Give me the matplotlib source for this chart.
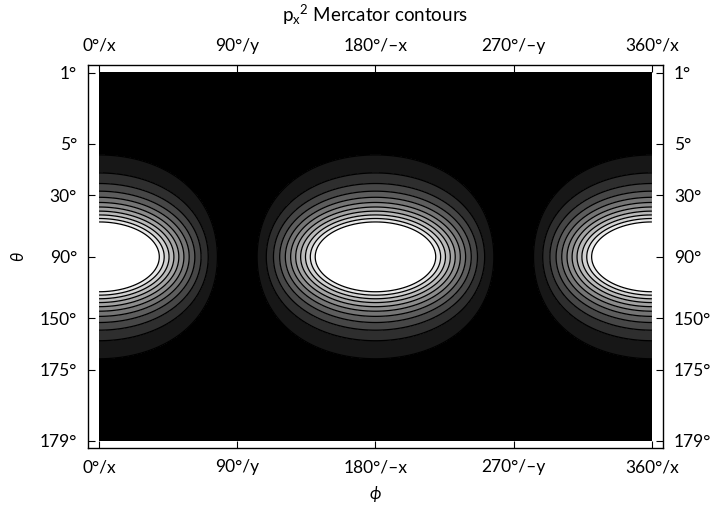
import numpy as np
import matplotlib
matplotlib.use("Agg")
import matplotlib.pyplot as plt

plt.rcParams['font.family'] = ['Lato', 'DejaVu Sans']
plt.rcParams['mathtext.fontset'] = 'custom'
plt.rcParams['mathtext.rm'] = 'Lato'
plt.rcParams['mathtext.it'] = 'Lato:italic'

# ============== chart data ==============
# phi ticks (degrees) and their labels
phi_ticks = [0, 90, 180, 270, 360]
phi_labels = ["0°/x", "90°/y", "180°/–x", "270°/–y", "360°/x"]

# theta ticks, placed on the Mercator axis
merc_ticks = [3.93, 2.414, 1.316, 0.0, -1.316, -2.414, -3.93]
theta_labels = ["1°", "5°", "30°", "90°", "150°", "175°", "179°"]

# Mercator extent of the image
merc_top = 3.93
merc_bot = -3.93

# contour levels of p_x^2 (11 boundaries -> 12 bands, black to white)
levels = [0.05, 0.105, 0.16, 0.215, 0.27, 0.325, 0.38, 0.435, 0.49, 0.545, 0.60]
# =========================================

phi = np.linspace(0, 360, 721)
merc = np.linspace(merc_bot, merc_top, 600)
theta = 2 * np.arctan(np.exp(-merc))          # mercator -> polar angle
PHI, TH = np.meshgrid(np.radians(phi), theta)
px2 = (np.sin(TH) * np.cos(PHI)) ** 2

bounds = [0.0] + levels + [1.0]
n = len(bounds) - 1
colors = [str(k / (n - 1)) for k in range(n)]

fig = plt.figure(figsize=(7.16, 5.08), dpi=100)
ax = fig.add_axes([0.1229, 0.1181, 0.803, 0.754])

ax.contourf(phi, merc, px2, levels=bounds, colors=colors)
ax.contour(phi, merc, px2, levels=levels, colors='black', linewidths=0.9)

ax.set_xlim(-7.2, 367.2)
ax.set_ylim(merc_bot - 0.155, merc_top + 0.17)

ax.set_xticks(phi_ticks)
ax.set_xticklabels(phi_labels)
ax.set_yticks(merc_ticks)
ax.set_yticklabels(theta_labels)
ax.tick_params(direction='in', length=5, width=0.8, top=True, right=True,
               labeltop=True, labelright=True, labelsize=12.5, pad=8)

for s in ax.spines.values():
    s.set_linewidth(1.0)

ax.set_xlabel("ϕ", fontsize=12, fontstyle='italic', labelpad=8)
ax.set_ylabel("θ", fontsize=12, fontstyle='italic', labelpad=10)
ax.set_title(r"$\mathrm{p_x}{}^\mathrm{2}$ Mercator contours", fontsize=13.5, pad=31)

fig.savefig("out.png", dpi=100)
